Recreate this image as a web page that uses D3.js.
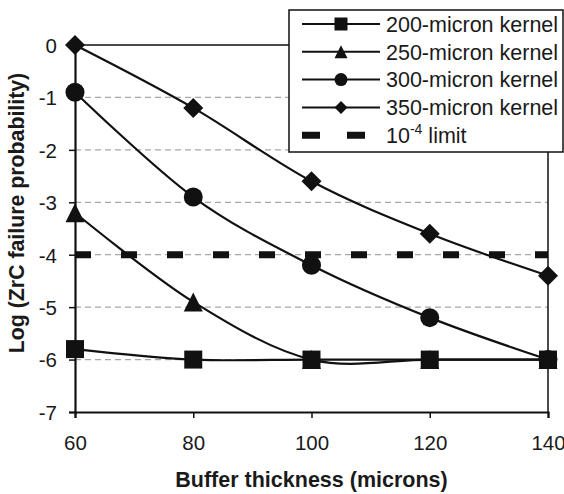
<!DOCTYPE html>
<html>
<head>
<meta charset="utf-8">
<script src="https://cdn.jsdelivr.net/npm/d3@7"></script>
<style>
  html, body { margin: 0; padding: 0; background: #fff; }
  svg { display: block; font-family: "Liberation Sans", Arial, sans-serif; }
</style>
</head>
<body>
<svg id="chart" width="564" height="494"></svg>
<script>
// Buffer thickness (microns)
const thickness = [60, 80, 100, 120, 140];
// Log of ZrC failure probability for each kernel diameter
const kernel200 = [-5.8, -6, -6, -6, -6];
const kernel250 = [-3.2, -4.9, -6, -6, -6];
const kernel300 = [-0.9, -2.9, -4.2, -5.2, -6];
const kernel350 = [0, -1.2, -2.6, -3.6, -4.4];
const limitValue = -4;
const seriesNames = ["200-micron kernel", "250-micron kernel", "300-micron kernel", "350-micron kernel"];
const seriesMarkers = ["square", "triangle", "circle", "diamond"];
const xTicks = [60, 80, 100, 120, 140];
const yTicks = [-7, -6, -5, -4, -3, -2, -1, 0];
const gridValues = [-6, -5, -4, -3, -2, -1];

const series = [kernel200, kernel250, kernel300, kernel350].map((vals, i) => ({
  name: seriesNames[i],
  marker: seriesMarkers[i],
  points: thickness.map((t, j) => ({ x: t, y: vals[j] }))
}));

const W = 564, H = 494;
const margin = { left: 75, right: 16, top: 45, bottom: 82 };
const svg = d3.select("#chart");

const x = d3.scaleLinear().domain([60, 140]).range([margin.left, W - margin.right]);
const y = d3.scaleLinear().domain([-7, 0]).range([H - margin.bottom, margin.top]);

// Gridlines
svg.append("g").selectAll("line").data(gridValues).join("line")
  .attr("x1", x(60)).attr("x2", x(140))
  .attr("y1", d => y(d)).attr("y2", d => y(d))
  .attr("stroke", "#a8a8a8").attr("stroke-width", 1.2)
  .attr("stroke-dasharray", "6,4");

// Plot frame (top and right)
svg.append("path")
  .attr("d", `M${x(60)},${y(0)}H${x(140)}V${y(-7)}`)
  .attr("fill", "none").attr("stroke", "#111").attr("stroke-width", 1.5);

// 10^-4 limit
svg.append("line")
  .attr("x1", x(60)).attr("x2", x(140))
  .attr("y1", y(limitValue)).attr("y2", y(limitValue))
  .attr("stroke", "#111").attr("stroke-width", 7)
  .attr("stroke-dasharray", "16,30");

// Axes
const xAxis = d3.axisBottom(x).tickValues(xTicks).tickSize(6).tickPadding(17).tickFormat(d => String(d));
const yAxis = d3.axisLeft(y).tickValues(yTicks).tickSize(6).tickPadding(12).tickFormat(d => String(d));

const gx = svg.append("g").attr("transform", `translate(0,${y(-7)})`).call(xAxis);
const gy = svg.append("g").attr("transform", `translate(${x(60)},0)`).call(yAxis);
[gx, gy].forEach(g => {
  g.select(".domain").attr("stroke", "#111").attr("stroke-width", 2.2);
  g.selectAll(".tick line").attr("stroke", "#111").attr("stroke-width", 1.5);
  g.selectAll(".tick text").attr("fill", "#1a1a1a").style("font-size", "20.5px")
    .style("font-family", "'Liberation Sans', Arial, sans-serif");
});
gy.selectAll(".tick text").attr("dy", "0.36em");

// Smoothed series lines
const line = d3.line().x(d => x(d.x)).y(d => y(d.y)).curve(d3.curveCardinal.tension(0));
svg.append("g").selectAll("path").data(series).join("path")
  .attr("d", d => line(d.points))
  .attr("fill", "none").attr("stroke", "#111").attr("stroke-width", 2.2);

// Marker shapes
function markerPath(type, s) {
  const h = s / 2;
  if (type === "square") return `M${-h},${-h}h${s}v${s}h${-s}Z`;
  if (type === "triangle") return `M0,${-h}L${h},${h}L${-h},${h}Z`;
  if (type === "diamond") return `M0,${-h}L${h},0L0,${h}L${-h},0Z`;
  return `M${h},0A${h},${h} 0 1 1 ${-h},0A${h},${h} 0 1 1 ${h},0Z`;
}
const markerSize = { square: 18, triangle: 19, circle: 19, diamond: 20 };

series.forEach(s => {
  svg.append("g").selectAll("path").data(s.points).join("path")
    .attr("transform", d => `translate(${x(d.x)},${y(d.y)})`)
    .attr("d", markerPath(s.marker, markerSize[s.marker]))
    .attr("fill", "#111");
});

// Axis titles
svg.append("text")
  .attr("x", (x(60) + x(140)) / 2).attr("y", 487)
  .attr("text-anchor", "middle").attr("fill", "#1a1a1a")
  .style("font-size", "21.5px").style("font-weight", "bold")
  .text("Buffer thickness (microns)");

svg.append("text")
  .attr("transform", `translate(24,213) rotate(-90)`)
  .attr("text-anchor", "middle").attr("fill", "#1a1a1a")
  .style("font-size", "21.3px").style("font-weight", "bold")
  .text("Log (ZrC failure probability)");

// Legend
const legend = svg.append("g");
legend.append("rect")
  .attr("x", 289).attr("y", 10).attr("width", 274).attr("height", 142)
  .attr("fill", "#fff").attr("stroke", "#111").attr("stroke-width", 1.5);

const rowY = i => 24 + i * 27.8;
series.forEach((s, i) => {
  const cy = rowY(i);
  legend.append("line").attr("x1", 302).attr("x2", 380).attr("y1", cy).attr("y2", cy)
    .attr("stroke", "#111").attr("stroke-width", 2);
  legend.append("path").attr("transform", `translate(341,${cy})`)
    .attr("d", markerPath(s.marker, 13)).attr("fill", "#111");
  legend.append("text").attr("x", 386).attr("y", cy).attr("dy", "0.36em")
    .attr("fill", "#1a1a1a").style("font-size", "21.5px").text(s.name);
});
const ly = rowY(4);
legend.append("line").attr("x1", 302).attr("x2", 365).attr("y1", ly).attr("y2", ly)
  .attr("stroke", "#111").attr("stroke-width", 7).attr("stroke-dasharray", "18,27");
const baseY = ly + 7.7;
const lt = legend.append("text").attr("x", 386).attr("y", baseY)
  .attr("fill", "#1a1a1a").style("font-size", "21.5px");
lt.append("tspan").text("10");
lt.append("tspan").attr("y", baseY - 9).style("font-size", "14px").text("-4");
lt.append("tspan").attr("y", baseY).text(" limit");
</script>
</body>
</html>
